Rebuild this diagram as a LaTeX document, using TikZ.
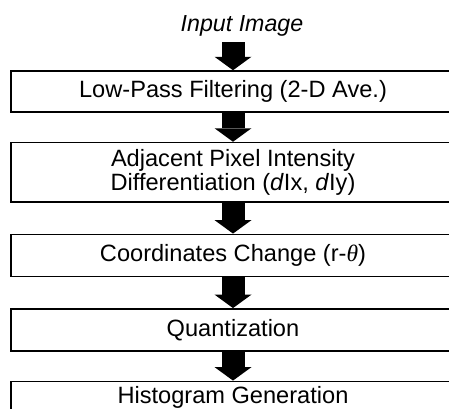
\documentclass[tikz,border=0pt]{standalone}
\usepackage{fontspec}
\setmainfont{Liberation Sans}
\newfontfamily\thetafont{Liberation Serif}
\usetikzlibrary{positioning, arrows.meta}
\tikzstyle{process} = [rectangle, minimum width=222pt, minimum height=21pt, text centered, align=center, draw=black, line width=0.75pt, font=\fontsize{11.8pt}{10.6pt}\selectfont]
\tikzstyle{inputtext} = [inner sep=2.6pt, font=\fontsize{11.6pt}{10.6pt}\selectfont\itshape]
\tikzstyle{bigarrow} = [line width=11.5pt, -{Triangle[width=18.5pt, length=6.75pt, line width=0pt]}]

\begin{document}
\begin{tikzpicture}
\useasboundingbox (0pt,0pt) rectangle (224.5pt,-204pt);
\clip (0pt,0pt) rectangle (224.5pt,-204pt);

\node (pro1) [process, minimum height=20.5pt] at (116.5pt,-45.75pt) {Low-Pass Filtering (2-D Ave.)};

\node (input) [inputtext, above=14pt of pro1, xshift=4.5pt] {Input Image};

\node (pro2) [process, below=14.5pt of pro1, minimum height=28pt] {Adjacent Pixel Intensity\\ Differentiation (\textit{d}Ix, \textit{d}Iy)};

\node (pro3) [process, below=15.5pt of pro2] {Coordinates Change (r-{\thetafont\itshape θ})};

\node (pro4) [process, below=15.5pt of pro3] {Quantization};

\node (pro5) [process, below=14.5pt of pro4, inner ysep=2.5pt, text depth=10pt] {Histogram Generation};
\draw [bigarrow] (input.south -| pro1.north) -- (pro1.north);
\draw [bigarrow] (pro1) -- (pro2);
\draw [bigarrow] (pro2) -- (pro3);
\draw [bigarrow] (pro3) -- (pro4);
\draw [bigarrow] (pro4) -- (pro5);
\end{tikzpicture}
\end{document}
